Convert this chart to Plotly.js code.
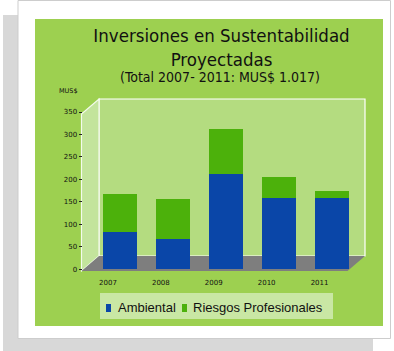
<!DOCTYPE html>
<html>
<head>
<meta charset="utf-8">
<script src="https://cdn.plot.ly/plotly-3.0.1.min.js"></script>
<style>html,body{margin:0;padding:0;background:#fff;}#chart{width:394px;height:351px;}</style>
</head>
<body>
<div id="chart"></div>
<script>
// ---- data ----
const years = ['2007', '2008', '2009', '2010', '2011'];
const ambiental = [84, 67, 211, 158, 159];
const riesgos = [83, 90, 101, 48, 16];
const yTicks = [0, 50, 100, 150, 200, 250, 300, 350];
const seriesNames = ['Ambiental', 'Riesgos Profesionales'];
const seriesColors = ['#0a46a8', '#4cb10b'];
const titleText = 'Inversiones en Sustentabilidad<br>Proyectadas';
const subtitleText = '(Total 2007- 2011: MUS$ 1.017)';
const unitText = 'MUS$';

// ---- geometry helpers (pixel -> paper, margins are zero) ----
const W = 394, H = 351;
const px = x => x / W;
const py = y => 1 - y / H;

const condensed = '"DejaVu Sans Condensed", "DejaVu Sans", sans-serif';
const legendFont = '"Liberation Sans", Arial, sans-serif';
const small = '"DejaVu Sans", sans-serif';

const yBase = 269.3, yTop = 112;

const traces = [
  {type: 'bar', name: seriesNames[0], x: years, y: ambiental,
   marker: {color: seriesColors[0], line: {width: 0}}, showlegend: false},
  {type: 'bar', name: seriesNames[1], x: years, y: riesgos,
   marker: {color: seriesColors[1], line: {width: 0}}, showlegend: false}
];

function path(pts) {
  return 'M' + pts.map(p => px(p[0]) + ',' + py(p[1])).join(' L') + ' Z';
}
function rect(x0, y0, x1, y1, fill, line) {
  return {type: 'rect', xref: 'paper', yref: 'paper', x0: px(x0), x1: px(x1), y0: py(y0), y1: py(y1),
          fillcolor: fill, line: line || {width: 0}, layer: 'below'};
}

const shapes = [
  rect(3, 15, 373, 351, '#d8d8d8'),                                   // shadow
  rect(18, 0.5, 390.5, 338.5, '#ffffff', {color: '#cdcdcd', width: 1}), // card
  rect(35, 19, 383, 326, '#9dd050'),                                  // green panel
  rect(99, 99, 365, 256, '#b4dc80', {color: '#ffffff', width: 1.2}),   // back wall
  {type: 'path', xref: 'paper', yref: 'paper', path: path([[81.5, 114], [99, 99], [99, 256], [81.5, 271]]),
   fillcolor: '#c3e49c', line: {color: '#f4fbec', width: 1.2}, layer: 'below'}, // side wall
  {type: 'path', xref: 'paper', yref: 'paper', path: path([[81.5, 271], [99, 256], [365, 256], [347.5, 271]]),
   fillcolor: '#7e7e7e', line: {width: 0}, layer: 'below'},          // floor
  // legend box and swatches
  rect(100, 293, 333, 319, '#c9e7a4'),
  Object.assign(rect(106, 304, 111, 312, seriesColors[0]), {layer: 'above'}),
  Object.assign(rect(182, 304, 187, 312, seriesColors[1]), {layer: 'above'})
];

const layout = {
  width: W, height: H,
  margin: {l: 0, r: 0, t: 0, b: 0, pad: 0},
  paper_bgcolor: '#ffffff',
  plot_bgcolor: 'rgba(0,0,0,0)',
  barmode: 'stack',
  bargap: 0.357,
  showlegend: false,
  title: {
    text: titleText,
    font: {family: condensed, size: 18.5, color: '#111111'},
    x: px(221.5), xanchor: 'center', xref: 'container',
    y: py(42), yanchor: 'top', yref: 'container'
  },
  xaxis: {
    domain: [px(93.5), px(358)], type: 'category', categoryorder: 'array', categoryarray: years,
    range: [-0.5, 4.5], fixedrange: true, anchor: 'y',
    showgrid: false, zeroline: false, showline: false, ticks: '',
    ticklabelshift: -12, ticklabelstandoff: 8,
    tickfont: {family: small, size: 7, color: '#111111'}
  },
  yaxis: {
    domain: [py(yBase), py(yTop)], range: [0, 350], anchor: 'free', position: px(81.5), fixedrange: true,
    tickvals: yTicks, ticks: 'outside', ticklen: 3, tickwidth: 1, tickcolor: '#222222',
    showgrid: false, zeroline: false, showline: false,
    tickfont: {family: small, size: 7, color: '#111111'}
  },
  annotations: [
    {text: subtitleText, xref: 'paper', yref: 'paper', x: px(219.5), y: py(76.5),
     xanchor: 'center', yanchor: 'middle', showarrow: false,
     font: {family: condensed, size: 14, color: '#111111'}},
    {text: unitText, xref: 'paper', yref: 'paper', x: px(68.5), y: py(91),
     xanchor: 'center', yanchor: 'middle', showarrow: false,
     font: {family: small, size: 6.5, color: '#111111'}},
    {text: seriesNames[0], xref: 'paper', yref: 'paper', x: px(116), y: py(307),
     xanchor: 'left', yanchor: 'middle', showarrow: false,
     font: {family: legendFont, size: 13, color: '#111111'}},
    {text: seriesNames[1], xref: 'paper', yref: 'paper', x: px(191), y: py(307),
     xanchor: 'left', yanchor: 'middle', showarrow: false,
     font: {family: legendFont, size: 13, color: '#111111'}}
  ],
  shapes: shapes
};

Plotly.newPlot('chart', traces, layout, {displayModeBar: false, staticPlot: true});
</script>
</body>
</html>
